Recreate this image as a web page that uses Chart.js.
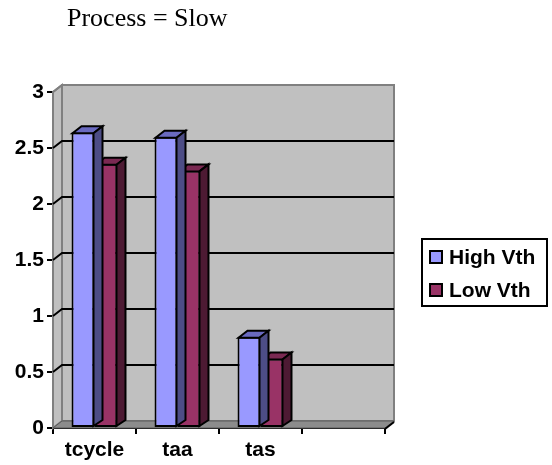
<!DOCTYPE html>
<html>
<head>
<meta charset="utf-8">
<script src="https://cdn.jsdelivr.net/npm/chart.js@4"></script>
<style>
    html, body { margin: 0; padding: 0; background: #fff; }
    canvas { display: block; }
</style>
</head>
<body>
<canvas id="chart" width="552" height="465"></canvas>
<script>
// Process = Slow, timing per threshold voltage
const titleText = 'Process = Slow';
const categories = ['tcycle', 'taa', 'tas', ''];
const highVth = [2.64, 2.60, 0.815, null];
const lowVth = [2.36, 2.30, 0.62, null];
const yTicks = [0, 0.5, 1, 1.5, 2, 2.5, 3];

const labelFont = { family: '"Liberation Sans", Arial, sans-serif', weight: 'bold', size: 21 };

// depth of the fake 3D extrusion
const DX = 9;
const DY = 7;

const colors = {
    high: { front: '#9999ff', top: '#6a6ac0', side: '#4d4d86' },
    low: { front: '#993366', top: '#7a2952', side: '#4d1a33' },
    wall: '#c0c0c0',
    wallEdge: '#808080',
    floor: '#8c8c8c',
};

function poly(ctx, pts, fill, stroke, lw) {
    ctx.beginPath();
    ctx.moveTo(pts[0][0], pts[0][1]);
    for (let i = 1; i < pts.length; i++) ctx.lineTo(pts[i][0], pts[i][1]);
    ctx.closePath();
    if (fill) { ctx.fillStyle = fill; ctx.fill(); }
    if (stroke) { ctx.strokeStyle = stroke; ctx.lineWidth = lw || 1; ctx.stroke(); }
}

/**
 * Back wall, side wall, floor and gridlines behind the bars,
 * plus the top/side faces of each bar, title and legend
 */
const wallsPlugin = {
    id: 'walls',
    beforeDatasetsDraw(chart) {
        const { ctx, chartArea: a, scales: { y } } = chart;
        ctx.save();
        // left side wall
        poly(ctx, [[a.left, a.top], [a.left + DX, a.top - DY], [a.left + DX, a.bottom - DY], [a.left, a.bottom]],
            colors.wall, colors.wallEdge, 2);
        // back wall
        poly(ctx, [[a.left + DX, a.top - DY], [a.right + DX, a.top - DY], [a.right + DX, a.bottom - DY], [a.left + DX, a.bottom - DY]],
            colors.wall, colors.wallEdge, 2);
        // floor
        poly(ctx, [[a.left, a.bottom], [a.left + DX, a.bottom - DY], [a.right + DX, a.bottom - DY], [a.right, a.bottom]],
            colors.floor, '#5a5a5a', 1);
        // gridlines on wall
        ctx.strokeStyle = '#000';
        ctx.lineWidth = 2;
        yTicks.forEach(v => {
            if (v === 0 || v === 3) return;
            const py = y.getPixelForValue(v);
            ctx.beginPath();
            ctx.moveTo(a.left, py);
            ctx.lineTo(a.left + DX, py - DY);
            ctx.lineTo(a.right + DX, py - DY);
            ctx.stroke();
        });
        // top edge slant in gray
        ctx.strokeStyle = colors.wallEdge;
        ctx.beginPath();
        ctx.moveTo(a.left, a.top);
        ctx.lineTo(a.left + DX, a.top - DY);
        ctx.stroke();
        // floor right end
        ctx.strokeStyle = '#000';
        ctx.beginPath();
        ctx.moveTo(a.right, a.bottom + 1);
        ctx.lineTo(a.right + DX, a.bottom - DY + 1);
        ctx.stroke();
        ctx.restore();
    },
    afterDatasetDraw(chart, args) {
        const { ctx } = chart;
        const c = args.index === 0 ? colors.high : colors.low;
        const values = chart.data.datasets[args.index].data;
        const meta = chart.getDatasetMeta(args.index);
        ctx.save();
        ctx.lineJoin = 'miter';
        meta.data.forEach((bar, i) => {
            if (values[i] == null) return;
            const { x, y, base, width } = bar.getProps(['x', 'y', 'base', 'width'], true);
            const l = x - width / 2 + 1;
            const r = x + width / 2 - 1;
            const t = y + 1;
            // top face
            poly(ctx, [[l, t], [l + DX, t - DY], [r + DX, t - DY], [r, t]], c.top, '#000', 2);
            // right face
            poly(ctx, [[r, t], [r + DX, t - DY], [r + DX, base - DY], [r, base - 1]], c.side, '#000', 2);
        });
        ctx.restore();
    },
    afterDraw(chart) {
        const { ctx } = chart;
        ctx.save();
        // title
        ctx.fillStyle = '#000';
        ctx.font = '26px "Liberation Serif", "Times New Roman", serif';
        ctx.textBaseline = 'alphabetic';
        ctx.textAlign = 'left';
        ctx.fillText(titleText, 67, 26);

        // legend
        ctx.lineWidth = 2;
        ctx.strokeStyle = '#000';
        ctx.fillStyle = '#fff';
        ctx.fillRect(422, 239, 125, 67);
        ctx.strokeRect(422, 239, 125, 67);
        ctx.font = `bold 21px ${labelFont.family}`;
        ctx.textBaseline = 'middle';
        chart.data.datasets.forEach((ds, i) => {
            const cy = 257 + i * 33;
            ctx.fillStyle = ds.backgroundColor;
            ctx.fillRect(430, cy - 6, 12, 12);
            ctx.strokeRect(430, cy - 6, 12, 12);
            ctx.fillStyle = '#000';
            ctx.fillText(ds.label, 449, cy + 1);
        });
        ctx.restore();
    }
};

new Chart(document.getElementById('chart'), {
    type: 'bar',
    data: {
        labels: categories,
        datasets: [
            {
                label: 'High Vth',
                data: highVth,
                backgroundColor: colors.high.front,
                borderColor: '#000',
                borderWidth: 2,
                borderSkipped: false,
                barPercentage: 1,
                categoryPercentage: 0.554,
            },
            {
                label: 'Low Vth',
                data: lowVth,
                backgroundColor: colors.low.front,
                borderColor: '#000',
                borderWidth: 2,
                borderSkipped: false,
                barPercentage: 1,
                categoryPercentage: 0.554,
            }
        ]
    },
    options: {
        responsive: false,
        animation: false,
        devicePixelRatio: 1,
        layout: { padding: { top: 92, right: 167, left: 0, bottom: 0 } },
        plugins: {
            legend: { display: false },
            title: { display: false },
            tooltip: { enabled: false }
        },
        scales: {
            x: {
                afterFit: (scale) => { scale.height = 37; },
                grid: { offset: true, drawOnChartArea: false, drawTicks: true, tickLength: 6, color: '#000', lineWidth: 2 },
                border: { color: '#000', width: 2 },
                ticks: { color: '#000', font: labelFont, padding: 4, maxRotation: 0, autoSkip: false }
            },
            y: {
                min: 0,
                max: 3,
                afterFit: (scale) => { scale.width = 53; },
                afterBuildTicks: (scale) => { scale.ticks = yTicks.map(v => ({ value: v })); },
                grid: { drawOnChartArea: false, drawTicks: true, tickLength: 6, color: '#000', lineWidth: 2 },
                border: { color: '#000', width: 2 },
                ticks: { color: '#000', font: labelFont, padding: 3, callback: (v) => String(v) }
            }
        }
    },
    plugins: [wallsPlugin]
});
</script>
</body>
</html>
